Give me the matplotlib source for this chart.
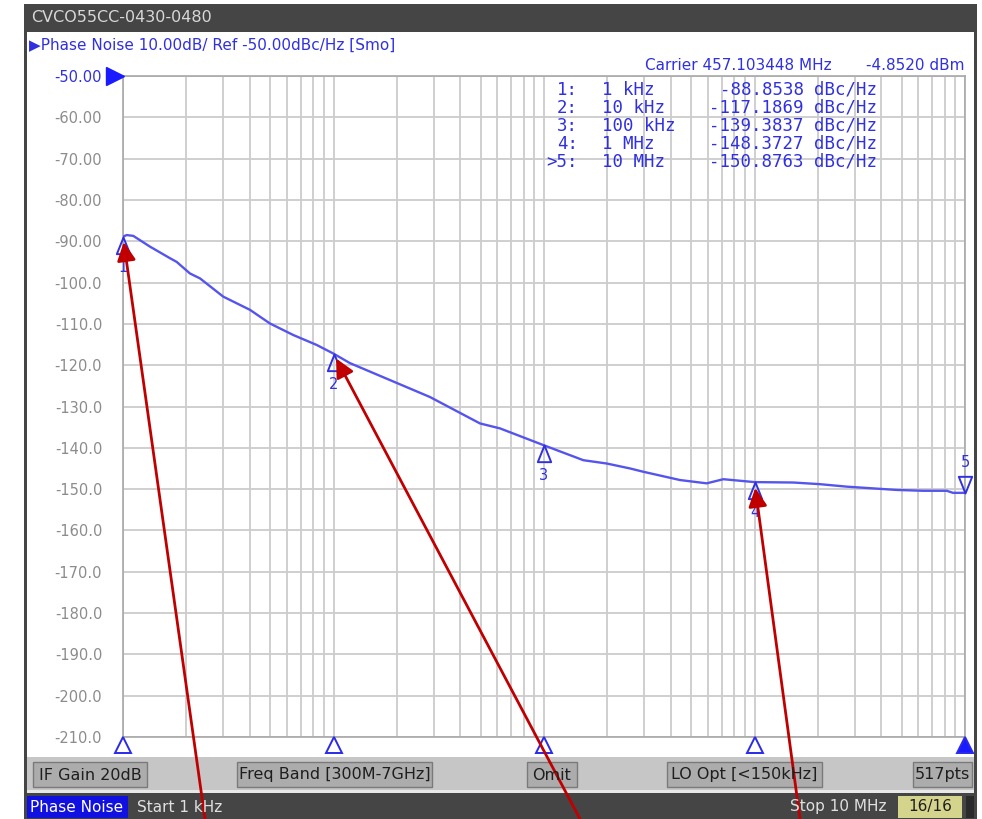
import matplotlib
matplotlib.use("Agg")
import matplotlib.pyplot as plt
from matplotlib.patches import Rectangle
from matplotlib.path import Path
from matplotlib.transforms import blended_transform_factory

# ---------------- data ----------------
freq_hz = [1000, 1041, 1119, 1343, 1671, 1799, 2080, 2323, 2992, 4009, 4989,
           6442, 8318, 10000, 11970, 18540, 28710, 49660, 61800, 100000,
           153800, 198600, 256400, 296500, 442600, 592900, 711200, 1000000,
           1528000, 2046000, 2742000, 4742000, 6340000, 8185000, 8770000,
           10000000]
noise_dbc = [-88.9, -88.5, -88.7, -91.3, -94.1, -95.0, -97.8, -99.0, -103.4,
             -106.6, -109.9, -112.7, -115.1, -117.2, -119.5, -123.6, -127.7,
             -134.1, -135.3, -139.4, -143.0, -143.8, -145.0, -145.8, -147.8,
             -148.6, -147.6, -148.3, -148.4, -148.8, -149.4, -150.2, -150.4,
             -150.4, -150.9, -150.9]

marker_ids = ["1", "2", "3", "4", "5"]
marker_idx_labels = ["1:", "2:", "3:", "4:", ">5:"]
marker_freq = [1e3, 1e4, 1e5, 1e6, 1e7]
marker_freq_labels = ["1 kHz", "10 kHz", "100 kHz", "1 MHz", "10 MHz"]
marker_vals = [-88.8538, -117.1869, -139.3837, -148.3727, -150.8763]
y_ticks = list(range(-50, -211, -10))

title_text = "CVCO55CC-0430-0480"
header_text = "\u25B6Phase Noise 10.00dB/ Ref -50.00dBc/Hz [Smo]"
carrier_text = "Carrier 457.103448 MHz"
carrier_power = "-4.8520 dBm"
buttons = [("IF Gain 20dB", 33, 147), ("Freq Band [300M-7GHz]", 237, 432),
           ("Omit", 527, 577), ("LO Opt [<150kHz]", 667, 822),
           ("517pts", 913, 972)]
arrow_targets = [0, 1, 3]          # markers pointed at by red arrows
arrow_starts_px = [205, 580, 800]  # x pixel where arrows leave the bottom

# ---------------- figure ----------------
W, H = 982, 819
fig = plt.figure(figsize=(W / 100, H / 100), dpi=100)
fig.patch.set_facecolor("white")

def FX(x):
    return x / W

def FY(y):
    return 1 - y / H

def rect(x0, y0, x1, y1, fc, ec="none", lw=0, z=-5):
    fig.add_artist(Rectangle((FX(x0), FY(y1)), (x1 - x0) / W, (y1 - y0) / H,
                             transform=fig.transFigure, facecolor=fc,
                             edgecolor=ec, linewidth=lw, zorder=z))

BLUE = "#3030e0"
TRACE = "#5555ee"
GRID = "#cccccc"
DARK = "#454545"

# frame
rect(24, 4, 977, 819, DARK, z=-10)
rect(27, 32, 974, 757, "white", z=-9)
rect(27, 757, 974, 790, "#c6c6c6", z=-9)
rect(27, 790, 974, 793, "#e8e8e8", z=-9)
fig.text(FX(31), FY(18), title_text, color="#d8d8d8", fontsize=11.5,
         va="center", ha="left")
fig.text(FX(29), FY(45), header_text, color=BLUE, fontsize=11,
         va="center", ha="left")

# ---------------- axes ----------------
ax = fig.add_axes([FX(123), FY(737), (965 - 123) / W, (737 - 76) / H])
ax.set_facecolor("white")
ax.set_xscale("log")
ax.set_xlim(1e3, 1e7)
ax.set_ylim(-210, -50)
ax.set_yticks(y_ticks)
ax.set_yticklabels([f"{v:.2f}" if v >= -90 else f"{v:.1f}" for v in y_ticks],
                   fontsize=10.5)
for lab, v in zip(ax.get_yticklabels(), y_ticks):
    lab.set_color(BLUE if v == -50 else "#8c8c8c")
ax.tick_params(axis="y", length=0, pad=15)
ax.tick_params(axis="x", which="both", length=0, labelbottom=False)
ax.grid(True, which="major", color=GRID, lw=1.3)
ax.grid(True, which="minor", axis="x", color=GRID, lw=1.3)
for s in ax.spines.values():
    s.set_color("#a8a8a8")
    s.set_linewidth(1.2)
ax.set_axisbelow(True)

ax.plot(freq_hz, noise_dbc, color=TRACE, lw=1.7, zorder=3)

# reference level arrow
tr_y = blended_transform_factory(ax.transAxes, ax.transData)
ax.plot([-0.009], [-50], marker=">", color="#1a1aff", ms=13, transform=tr_y,
        clip_on=False, zorder=5)

# trace markers (apex on the trace)
tri_up = Path([(0, 0), (-0.4, -1), (0.4, -1), (0, 0)],
              [Path.MOVETO, Path.LINETO, Path.LINETO, Path.CLOSEPOLY])
tri_down = Path([(0, 0), (-0.4, 1), (0.4, 1), (0, 0)],
                [Path.MOVETO, Path.LINETO, Path.LINETO, Path.CLOSEPOLY])
for i, (f, v, mid) in enumerate(zip(marker_freq, marker_vals, marker_ids)):
    if i < 4:
        ax.plot([f], [v], marker=tri_up, ms=24, mfc="none", mec=BLUE, mew=1.4,
                clip_on=False, zorder=4)
        ax.annotate(mid, (f, v), xytext=(0, -22), textcoords="offset points",
                    ha="center", va="center", color=BLUE, fontsize=10.5,
                    annotation_clip=False)
    else:
        ax.plot([f], [v], marker=tri_down, ms=24, mfc="none", mec=BLUE,
                mew=1.4, clip_on=False, zorder=4)
        ax.annotate(mid, (f, v), xytext=(0, 22), textcoords="offset points",
                    ha="center", va="center", color=BLUE, fontsize=10.5,
                    annotation_clip=False)

# markers along the frequency axis
tr_x = blended_transform_factory(ax.transData, ax.transAxes)
for i, f in enumerate(marker_freq):
    ax.plot([f], [-0.012], marker="^", ms=12,
            mfc=("#1a1aff" if i == 4 else "none"), mec="#2a2ae8", mew=1.4,
            transform=tr_x, clip_on=False, zorder=5)

# marker table
fig.text(FX(645), FY(66), carrier_text, color=BLUE, fontsize=11,
         ha="left", va="center")
fig.text(FX(965), FY(66), carrier_power, color=BLUE, fontsize=11,
         ha="right", va="center")
row_y = [90, 108, 126, 144, 162]
for y, il, fl, v in zip(row_y, marker_idx_labels, marker_freq_labels,
                        marker_vals):
    kw = dict(color=BLUE, fontsize=12.5, family="DejaVu Sans Mono",
              va="center")
    fig.text(FX(578), FY(y), il, ha="right", **kw)
    fig.text(FX(602), FY(y), fl, ha="left", **kw)
    fig.text(FX(804), FY(y), f"{v:.4f}", ha="right", **kw)
    fig.text(FX(814), FY(y), "dBc/Hz", ha="left", **kw)

# bottom buttons
for txt, x0, x1 in buttons:
    rect(x0, 762, x1, 787, "#acacac", ec="#7a7a7a", lw=1, z=-8)
    fig.text(FX((x0 + x1) / 2), FY(775), txt, color="#1e1e1e", fontsize=11.5,
             ha="center", va="center")

# status bar
rect(27, 796, 128, 818, "#1010e0", z=-8)
fig.text(FX(77), FY(807), "Phase Noise", color="white", fontsize=11,
         ha="center", va="center")
fig.text(FX(137), FY(807), "Start 1 kHz", color="#e0e0e0", fontsize=11,
         ha="left", va="center")
fig.text(FX(886), FY(807), "Stop 10 MHz", color="#e0e0e0", fontsize=11,
         ha="right", va="center")
rect(898, 796, 962, 818, "#d4d48c", z=-8)
fig.text(FX(930), FY(807), "16/16", color="#1e1e1e", fontsize=11,
         ha="center", va="center")
rect(966, 796, 974, 818, "#2a2a2a", z=-8)

# red annotation arrows
for k, xs in zip(arrow_targets, arrow_starts_px):
    ax.annotate("", xy=(marker_freq[k], marker_vals[k]),
                xytext=(FX(xs), 0.0), textcoords="figure fraction",
                arrowprops=dict(arrowstyle="-|>", color="#c00000", lw=2,
                                mutation_scale=28, shrinkA=0, shrinkB=4),
                annotation_clip=False, zorder=10)

fig.savefig("out.png", dpi=100)
